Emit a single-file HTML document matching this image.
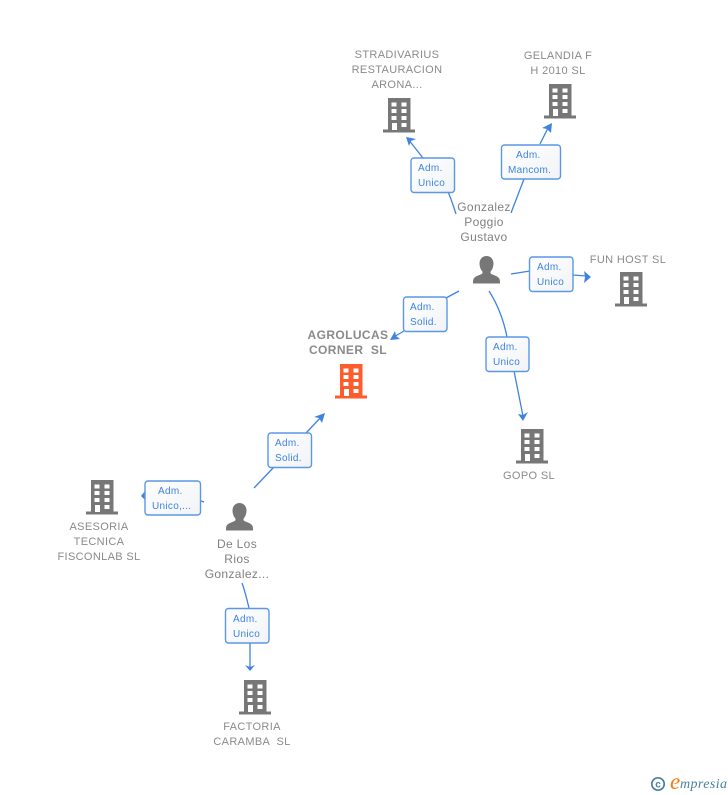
<!DOCTYPE html>
<html>
<head>
<meta charset="utf-8">
<style>
html,body{margin:0;padding:0;background:#fff;}
body{width:728px;height:795px;overflow:hidden;position:relative;}
svg{position:absolute;left:0;top:0;}
text{font-family:"Liberation Sans",sans-serif;}
.n{font-size:11px;fill:#8a8a8a;text-anchor:middle;letter-spacing:.35px;}
.p{font-size:12px;fill:#808080;text-anchor:middle;letter-spacing:.35px;}
.m{font-size:12px;font-weight:bold;fill:#8a8a8a;text-anchor:middle;letter-spacing:.4px;}
.l{font-size:10px;fill:#3f83e0;letter-spacing:.3px;}
.e{fill:none;stroke:#3f83e0;stroke-width:1.3;}
.a{fill:#3f83e0;}
.b{fill:url(#g);stroke:#5b97e6;stroke-width:1.4;}
</style>
</head>
<body>
<svg width="728" height="795" viewBox="0 0 728 795" xmlns="http://www.w3.org/2000/svg">
<defs>
<linearGradient id="g" x1="0" y1="0" x2="1" y2="1">
<stop offset="0" stop-color="#ffffff"/><stop offset="1" stop-color="#f1f3f6"/>
</linearGradient>
<g id="bw">
<rect x="8.5" y="4.5" width="5" height="4" fill="#fff"/><rect x="18.5" y="4.5" width="5" height="4" fill="#fff"/>
<rect x="8.5" y="11" width="5" height="4" fill="#fff"/><rect x="18.5" y="11" width="5" height="4" fill="#fff"/>
<rect x="8.5" y="18" width="5" height="4" fill="#fff"/><rect x="18.5" y="18" width="5" height="4" fill="#fff"/>
<rect x="9" y="25" width="5" height="7" fill="#fff"/><rect x="18.5" y="25" width="5" height="4" fill="#fff"/>
</g>
<g id="bg">
<rect x="5" y="0" width="22.5" height="32" fill="#777"/>
<rect x="0" y="31.5" width="32" height="3" fill="#777"/>
<use href="#bw"/>
</g>
<g id="bo">
<rect x="5" y="0" width="22.5" height="32" fill="#ff5c2e"/>
<rect x="0" y="31.5" width="32" height="3" fill="#ff5c2e"/>
<use href="#bw"/>
</g>
<g id="pr">
<path d="M13.5 0c4.4 0 7 3.4 7 7.600 0 3-1 5.600-2.600 7.500-.7 1-.6 2.400.6 3 3 1.400 7.400 2.300 8.200 5.400.3 1.200.3 2.700.3 4H0c0-1.300 0-2.800.3-4 .8-3.100 5.200-4 8.200-5.400 1.200-.6 1.300-2 .6-3-1.600-1.900-2.600-4.500-2.600-7.500C6.500 3.400 9.100 0 13.500 0z" fill="#777"/>
</g>
</defs>

<!-- edges -->
<path class="e" d="M456 214 C453 205 451 198 448 192"/>
<path class="e" d="M423 158 L408 139"/>
<path class="a" d="M406 137 L416 139 L411 141 L409 146 Z"/>

<path class="e" d="M511 213 L524 179"/>
<path class="e" d="M540 144 L549 126"/>
<path class="a" d="M552 123 L551 133 L547 129 L542 128 Z"/>

<path class="e" d="M511 274 L530 271"/>
<path class="e" d="M573 275 L586 276"/>
<path class="a" d="M591 277 L584 271 L585 277 L584 283 Z"/>

<path class="e" d="M459 291 L446 298"/>
<path class="e" d="M404 331 L392 338"/>
<path class="a" d="M390 340 L395 331 L396 336 L400 339 Z"/>

<path class="e" d="M489 291 C498 305 504 322 507 337"/>
<path class="e" d="M514 371 L523 416"/>
<path class="a" d="M523 421 L518 414 L523 415 L528 412 Z"/>

<path class="e" d="M254 488 L274 467"/>
<path class="e" d="M306 433 L323 415"/>
<path class="a" d="M325 413 L322 423 L319 418 L314 417 Z"/>

<path class="e" d="M201 501 L204 502"/>
<path class="a" d="M141 496 L145 491 L145 500 Z"/>

<path class="e" d="M242 583 C245 591 247 600 249 608"/>
<path class="e" d="M250 643 L250 667"/>
<path class="a" d="M250 671 L245 665 L250 667 L255 665 Z"/>

<!-- nodes -->
<use href="#bg" x="383" y="98"/>
<use href="#bg" x="544" y="84"/>
<use href="#bg" x="615" y="272"/>
<use href="#bg" x="516" y="429"/>
<use href="#bg" x="86" y="480"/>
<use href="#bg" x="239" y="680"/>
<use href="#bo" x="335" y="364"/>
<use href="#pr" x="473" y="256"/>
<use href="#pr" x="226" y="503"/>

<!-- node labels -->
<text class="n" x="397" y="58">STRADIVARIUS</text>
<text class="n" x="397" y="73">RESTAURACION</text>
<text class="n" x="397" y="88">ARONA...</text>
<text class="n" x="558" y="59">GELANDIA F</text>
<text class="n" x="558" y="74">H 2010 SL</text>
<text class="n" x="628" y="263">FUN HOST SL</text>
<text class="n" x="529" y="479">GOPO SL</text>
<text class="n" x="99" y="530">ASESORIA</text>
<text class="n" x="99" y="545">TECNICA</text>
<text class="n" x="99" y="560">FISCONLAB SL</text>
<text class="n" x="252" y="730">FACTORIA</text>
<text class="n" x="252" y="745" xml:space="preserve">CARAMBA  SL</text>
<text class="m" x="348" y="339">AGROLUCAS</text>
<text class="m" x="348" y="354" xml:space="preserve">CORNER  SL</text>
<text class="p" x="484" y="211">Gonzalez</text>
<text class="p" x="484" y="226">Poggio</text>
<text class="p" x="484" y="241">Gustavo</text>
<text class="p" x="237" y="548">De Los</text>
<text class="p" x="237" y="563">Rios</text>
<text class="p" x="237" y="578">Gonzalez...</text>

<!-- edge labels -->
<rect class="b" x="411" y="158" width="43.500" height="34.500" rx="3"/>
<text class="l" x="418" y="171">Adm.</text><text class="l" x="418" y="186">Unico</text>
<rect class="b" x="501.500" y="145" width="59" height="34" rx="3"/>
<text class="l" x="516" y="158">Adm.</text><text class="l" x="508" y="173">Mancom.</text>
<rect class="b" x="529.500" y="257" width="43.500" height="34.500" rx="3"/>
<text class="l" x="537" y="270">Adm.</text><text class="l" x="537" y="285">Unico</text>
<rect class="b" x="403.500" y="297" width="43.500" height="34.500" rx="3"/>
<text class="l" x="410" y="310">Adm.</text><text class="l" x="410" y="325">Solid.</text>
<rect class="b" x="486" y="337" width="43" height="34.500" rx="3"/>
<text class="l" x="493" y="350">Adm.</text><text class="l" x="493" y="365">Unico</text>
<rect class="b" x="268" y="433" width="43.500" height="34.500" rx="3"/>
<text class="l" x="275" y="446">Adm.</text><text class="l" x="275" y="461">Solid.</text>
<rect class="b" x="145" y="481" width="55.500" height="34" rx="3"/>
<text class="l" x="158" y="494">Adm.</text><text class="l" x="152" y="509">Unico,...</text>
<rect class="b" x="225.500" y="608.500" width="43.500" height="34.500" rx="3"/>
<text class="l" x="233" y="622">Adm.</text><text class="l" x="233" y="637">Unico</text>

<!-- logo -->
<circle cx="658" cy="784" r="6.200" fill="none" stroke="#4a7f9c" stroke-width="1.700"/>
<text x="658" y="787.500" font-size="10" fill="#4a7f9c" text-anchor="middle" font-weight="bold">c</text>
<text x="670" y="789" font-size="23" fill="#f47a12" style="font-family:'Liberation Serif',serif;font-style:italic;">e</text>
<text x="680" y="788" font-size="14" fill="#4a7f9c" style="font-family:'Liberation Serif',serif;font-style:italic;letter-spacing:.4px;">mpresia</text>
</svg>
</body>
</html>
